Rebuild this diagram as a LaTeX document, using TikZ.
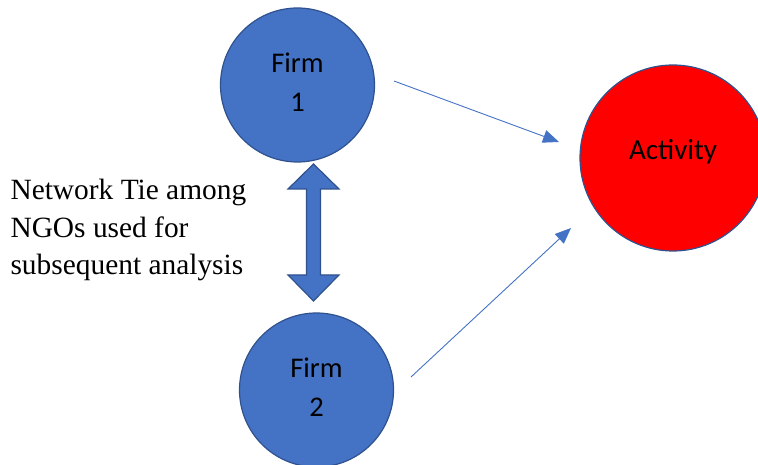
\documentclass[tikz,border=0pt]{standalone}
\usepackage{fontspec}
\setmainfont{Liberation Serif}
\newfontfamily\calibri{Carlito}
\usepackage{tikz}
\usetikzlibrary{arrows.meta,positioning,calc}
\definecolor{FirmBlue}{HTML}{4472C4}
\definecolor{EdgeBlue}{HTML}{2F528F}
\definecolor{ActRed}{HTML}{FF0000}
\tikzset{
  firmnode/.style={circle,draw=EdgeBlue,line width=1.2pt,fill=FirmBlue,minimum size=154pt,
              inner sep=0pt,align=center,font=\calibri\fontsize{28.5}{39}\selectfont},
  activitynode/.style={circle,draw=EdgeBlue,line width=1.2pt,fill=ActRed,minimum size=186pt,
              inner sep=0pt,align=center,font=\calibri\fontsize{29}{34}\selectfont},
  flow/.style={-{Triangle[length=16pt,width=13pt]},line width=0.9pt,draw=FirmBlue},
  tiearrow/.style={draw=EdgeBlue,line width=1.2pt,fill=FirmBlue,line join=miter},
  note/.style={font=\fontsize{29.4}{37.5}\selectfont,align=left,anchor=west}
}

\begin{document}
\begin{tikzpicture}[x=1pt,y=1pt]
  \useasboundingbox (0,0) rectangle (758,464);
  \node[firmnode] (firm1) at (297.5,379) {\raisebox{6pt}{Firm}\\\raisebox{6pt}{1}};
  \node[firmnode] (firm2) at (316.5,74) {\raisebox{6pt}{Firm}\\\raisebox{6pt}{2}};
  \node[activitynode] (activity) at (673,306) {\raisebox{18pt}{Activity}};
  \node[note] (tie label) at (7,234) {Network Tie among\\NGOs used for\\subsequent analysis};
  % ends of the two thin arrows
  \coordinate (a1 start) at (394,383);
  \coordinate (a1 end) at (559,322);
  \coordinate (a2 start) at (411,87);
  \coordinate (a2 end) at (571,236);
  \draw[flow] (a1 start) -- (a1 end);
  \draw[flow] (a2 start) -- (a2 end);
  % block double arrow between the firms
  \coordinate (tie top) at (313.5,300);
  \coordinate (tie bottom) at (313.5,163);
  \draw[tiearrow] (tie top) -- ++(25.5,-25) -- ++(-18.5,0) -- ($(tie bottom)+(7,26)$)
    -- ++(18.5,0) -- (tie bottom) -- ++(-25.5,26) -- ++(18.5,0) -- ($(tie top)+(-7,-25)$)
    -- ++(-18.5,0) -- cycle;
\end{tikzpicture}
\end{document}
